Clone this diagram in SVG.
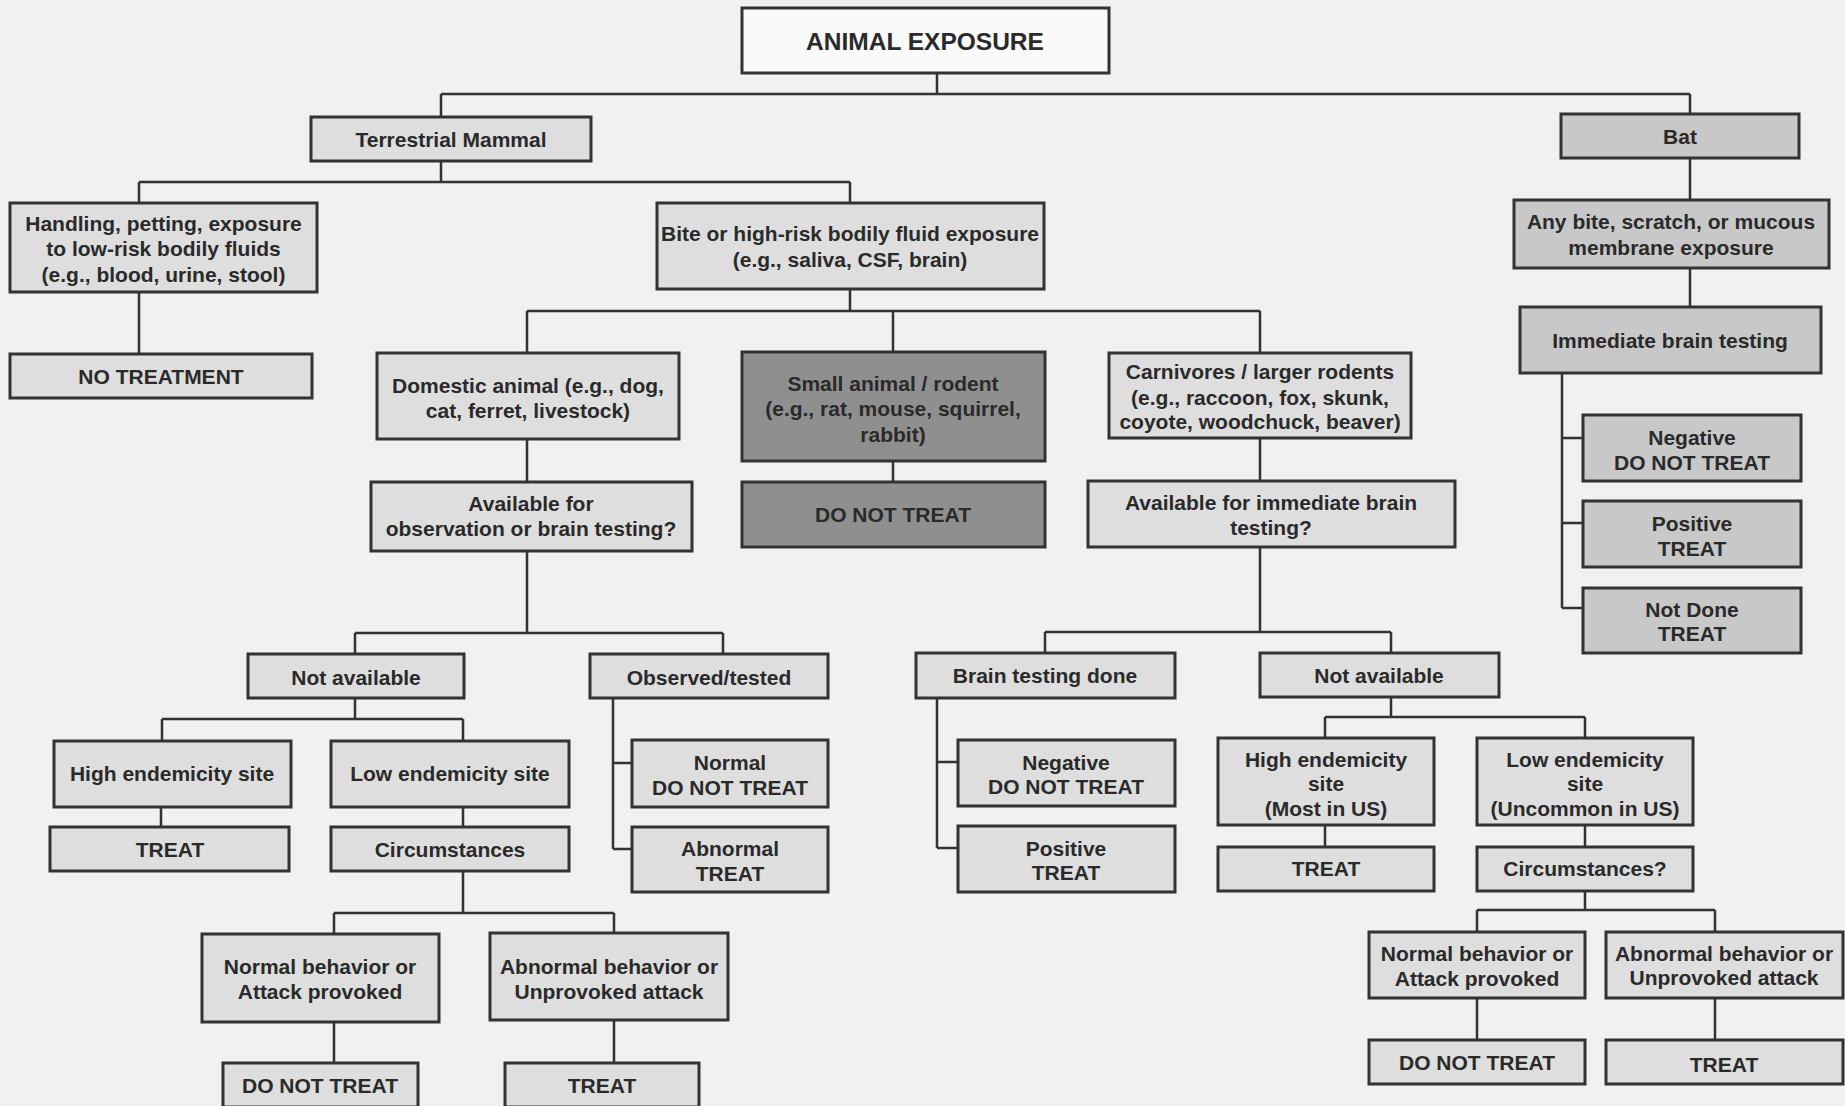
<svg xmlns="http://www.w3.org/2000/svg" width="1845" height="1106" viewBox="0 0 1845 1106">
<style>
.bg{fill:#f1f1f1}
rect.b{stroke:#333;stroke-width:3}
.w{fill:#fafafa}
.l{fill:#dedede}
.m{fill:#c8c8c8}
.d{fill:#8f8f8f}
text{font-family:"Liberation Sans",Arial,sans-serif;font-weight:bold;font-size:21px;fill:#2a2a2a;text-anchor:middle}
.title{font-size:24.5px}
.c path{fill:none;stroke:#333;stroke-width:2.5}
</style>
<rect class="bg" x="0" y="0" width="1845" height="1106"/>
<g class="c" id="connectors">
<path d="M937,73V94M441,94H1690M441,94V117M1690,94V114"/>
<path d="M441,161V182M139,182H850M139,182V203M850,182V203"/>
<path d="M139,292V354"/>
<path d="M850,289V311M527,311H1260M527,311V353M893,311V352M1260,311V353"/>
<path d="M1690,158V200M1690,268V307"/>
<path d="M1562,373V608M1562,438H1583M1562,523H1583M1562,608H1583"/>
<path d="M527,439V482M893,461V482M1260,438V481"/>
<path d="M527,551V633M355,633H723M355,633V654M723,633V654"/>
<path d="M1260,547V632M1045,632H1391M1045,632V653M1391,632V653"/>
<path d="M355,698V719M162,719H463M162,719V741M463,719V741"/>
<path d="M613,698V849M613,763H632M613,849H632"/>
<path d="M937,698V848M937,762H958M937,848H958"/>
<path d="M1391,697V717M1325,717H1585M1325,717V738M1585,717V738"/>
<path d="M161,807V827M463,807V827M1325,825V847M1585,825V847"/>
<path d="M463,871V913M334,913H614M334,913V934M614,913V933"/>
<path d="M1585,891V910M1477,910H1715M1477,910V932M1715,910V932"/>
<path d="M334,1022V1063M614,1020V1063M1477,998V1040M1715,998V1040"/>
</g>
<g id="n0"><rect class="b w" x="742" y="8" width="367" height="65"/><text class="title" x="925" y="50">ANIMAL EXPOSURE</text></g>
<g id="n1"><rect class="b l" x="311" y="117" width="280" height="44"/><text x="451" y="146.5">Terrestrial Mammal</text></g>
<g id="n2"><rect class="b m" x="1561" y="114" width="238" height="44"/><text x="1680" y="143.5">Bat</text></g>
<g id="n3"><rect class="b l" x="10" y="203" width="307" height="89"/><text x="163.5" y="230.5">Handling, petting, exposure</text><text x="163.5" y="255.5">to low-risk bodily fluids</text><text x="163.5" y="281.5">(e.g., blood, urine, stool)</text></g>
<g id="n4"><rect class="b l" x="657" y="203" width="387" height="86"/><text x="850" y="240.5">Bite or high-risk bodily fluid exposure</text><text x="850" y="266.5">(e.g., saliva, CSF, brain)</text></g>
<g id="n5"><rect class="b l" x="10" y="354" width="302" height="44"/><text x="161" y="383.5">NO TREATMENT</text></g>
<g id="n6"><rect class="b m" x="1514" y="200" width="315" height="68"/><text x="1671" y="228.5">Any bite, scratch, or mucous</text><text x="1671" y="254.5">membrane exposure</text></g>
<g id="n7"><rect class="b l" x="377" y="353" width="302" height="86"/><text x="528" y="392.5">Domestic animal (e.g., dog,</text><text x="528" y="417.5">cat, ferret, livestock)</text></g>
<g id="n8"><rect class="b d" x="742" y="352" width="303" height="109"/><text x="893" y="390.5">Small animal / rodent</text><text x="893" y="415.5">(e.g., rat, mouse, squirrel,</text><text x="893" y="441.5">rabbit)</text></g>
<g id="n9"><rect class="b l" x="1109" y="353" width="302" height="85"/><text x="1260" y="378.5">Carnivores / larger rodents</text><text x="1260" y="404.5">(e.g., raccoon, fox, skunk,</text><text x="1260" y="428.5">coyote, woodchuck, beaver)</text></g>
<g id="n10"><rect class="b m" x="1520" y="307" width="301" height="66"/><text x="1670" y="347.5">Immediate brain testing</text></g>
<g id="n11"><rect class="b l" x="371" y="482" width="321" height="69"/><text x="531" y="510.5">Available for</text><text x="531" y="535.5">observation or brain testing?</text></g>
<g id="n12"><rect class="b d" x="742" y="482" width="303" height="65"/><text x="893" y="521.5">DO NOT TREAT</text></g>
<g id="n13"><rect class="b l" x="1088" y="481" width="367" height="66"/><text x="1271" y="509.5">Available for immediate brain</text><text x="1271" y="534.5">testing?</text></g>
<g id="n14"><rect class="b m" x="1583" y="415" width="218" height="66"/><text x="1692" y="444.5">Negative</text><text x="1692" y="469.5">DO NOT TREAT</text></g>
<g id="n15"><rect class="b m" x="1583" y="501" width="218" height="66"/><text x="1692" y="530.5">Positive</text><text x="1692" y="555.5">TREAT</text></g>
<g id="n16"><rect class="b m" x="1583" y="588" width="218" height="65"/><text x="1692" y="616.5">Not Done</text><text x="1692" y="640.5">TREAT</text></g>
<g id="n17"><rect class="b l" x="248" y="654" width="216" height="44"/><text x="356" y="684.5">Not available</text></g>
<g id="n18"><rect class="b l" x="590" y="654" width="238" height="44"/><text x="709" y="684.5">Observed/tested</text></g>
<g id="n19"><rect class="b l" x="916" y="653" width="259" height="45"/><text x="1045" y="682.5">Brain testing done</text></g>
<g id="n20"><rect class="b l" x="1260" y="653" width="239" height="44"/><text x="1379" y="682.5">Not available</text></g>
<g id="n21"><rect class="b l" x="54" y="741" width="237" height="66"/><text x="172" y="780.5">High endemicity site</text></g>
<g id="n22"><rect class="b l" x="331" y="741" width="238" height="66"/><text x="450" y="780.5">Low endemicity site</text></g>
<g id="n23"><rect class="b l" x="632" y="740" width="196" height="67"/><text x="730" y="769.5">Normal</text><text x="730" y="794.5">DO NOT TREAT</text></g>
<g id="n24"><rect class="b l" x="958" y="740" width="217" height="66"/><text x="1066" y="769.5">Negative</text><text x="1066" y="793.5">DO NOT TREAT</text></g>
<g id="n25"><rect class="b l" x="1218" y="738" width="216" height="87"/><text x="1326" y="766.5">High endemicity</text><text x="1326" y="790.5">site</text><text x="1326" y="815.5">(Most in US)</text></g>
<g id="n26"><rect class="b l" x="1477" y="738" width="216" height="87"/><text x="1585" y="766.5">Low endemicity</text><text x="1585" y="790.5">site</text><text x="1585" y="815.5">(Uncommon in US)</text></g>
<g id="n27"><rect class="b l" x="50" y="827" width="239" height="44"/><text x="170" y="856.5">TREAT</text></g>
<g id="n28"><rect class="b l" x="331" y="827" width="238" height="44"/><text x="450" y="856.5">Circumstances</text></g>
<g id="n29"><rect class="b l" x="632" y="827" width="196" height="65"/><text x="730" y="855.5">Abnormal</text><text x="730" y="880.5">TREAT</text></g>
<g id="n30"><rect class="b l" x="958" y="826" width="217" height="66"/><text x="1066" y="855.5">Positive</text><text x="1066" y="879.5">TREAT</text></g>
<g id="n31"><rect class="b l" x="1218" y="847" width="216" height="44"/><text x="1326" y="875.5">TREAT</text></g>
<g id="n32"><rect class="b l" x="1477" y="847" width="216" height="44"/><text x="1585" y="875.5">Circumstances?</text></g>
<g id="n33"><rect class="b l" x="202" y="934" width="237" height="88"/><text x="320" y="973.5">Normal behavior or</text><text x="320" y="998.5">Attack provoked</text></g>
<g id="n34"><rect class="b l" x="490" y="933" width="238" height="87"/><text x="609" y="973.5">Abnormal behavior or</text><text x="609" y="998.5">Unprovoked attack</text></g>
<g id="n35"><rect class="b l" x="1369" y="932" width="216" height="66"/><text x="1477" y="960.5">Normal behavior or</text><text x="1477" y="985.5">Attack provoked</text></g>
<g id="n36"><rect class="b l" x="1606" y="932" width="237" height="66"/><text x="1724" y="960.5">Abnormal behavior or</text><text x="1724" y="984.5">Unprovoked attack</text></g>
<g id="n37"><rect class="b l" x="223" y="1063" width="195" height="44"/><text x="320" y="1092.5">DO NOT TREAT</text></g>
<g id="n38"><rect class="b l" x="505" y="1063" width="194" height="44"/><text x="602" y="1092.5">TREAT</text></g>
<g id="n39"><rect class="b l" x="1369" y="1040" width="216" height="44"/><text x="1477" y="1069.5">DO NOT TREAT</text></g>
<g id="n40"><rect class="b l" x="1606" y="1040" width="237" height="44"/><text x="1724" y="1071.5">TREAT</text></g>
</svg>
